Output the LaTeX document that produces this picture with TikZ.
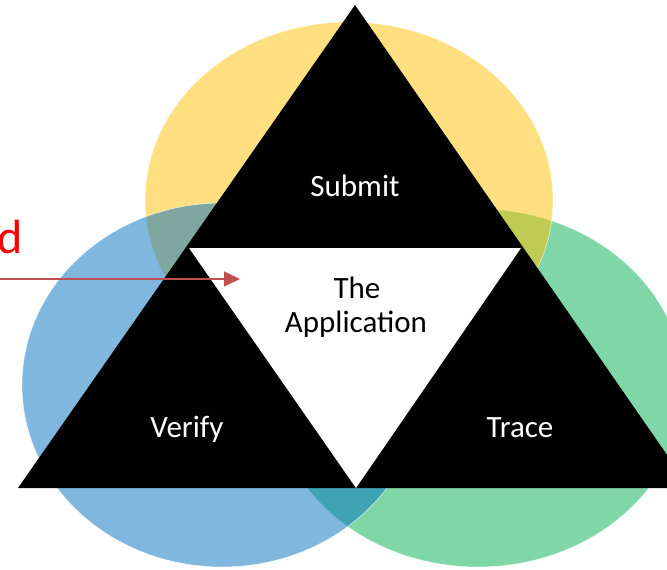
\documentclass[tikz,border=0pt]{standalone}
\usepackage{fontspec}
\setmainfont{Carlito}
\usetikzlibrary{arrows.meta}
\definecolor{gold1}{HTML}{FFC000}
\definecolor{blue1}{HTML}{0070C0}
\definecolor{green1}{HTML}{00B050}
\definecolor{red1}{HTML}{C0504D}

\begin{document}
\begin{tikzpicture}[x=1pt, y=-1pt,
  blob/.style={fill opacity=.5, draw=white, draw opacity=.7, line width=.6pt},
  lbl/.style={anchor=base, inner sep=0pt, font=\fontsize{31}{37}\selectfont}]
  \clip (0,0) rectangle (667,570);
  \fill[white] (0,0) rectangle (667,570);

  % the three circles
  \draw[blob, fill=green1] (478,388) ellipse [x radius=206, y radius=179];
  \draw[blob, fill=gold1] (349,200) ellipse [x radius=204, y radius=178];
  \draw[blob, fill=blue1] (222,385) ellipse [x radius=200, y radius=182];

  % triangles
  \coordinate (apex) at (355,5);
  \coordinate (baseL) at (18,488);
  \coordinate (baseR) at (690,488);
  \coordinate (midL) at (189,248);
  \coordinate (midR) at (521,248);
  \coordinate (midB) at (356,488);
  \fill[black] (apex) -- (baseL) -- (baseR) -- cycle;
  \fill[white] (midL) -- (midR) -- (midB) -- cycle;

  \node[lbl, text=white] (submit) at (355,196) {Submit};
  \node[lbl, text=white] (verify) at (187,437) {Verify};
  \node[lbl, text=white] (trace) at (520,437) {Trace};
  \node[lbl] (the) at (357,298) {The};
  \node[lbl] (app) at (356,332) {Application};

  \node[anchor=base east, inner sep=0pt, text=red, font=\fontsize{48}{56}\selectfont] (word) at (23,253) {d};
  \coordinate (arrowtail) at (-2,279);
  \coordinate (arrowtip) at (240,279);
  \draw[red1, line width=1.3pt, -{Triangle[length=16pt, width=15pt]}] (arrowtail) -- (arrowtip);
\end{tikzpicture}
\end{document}
